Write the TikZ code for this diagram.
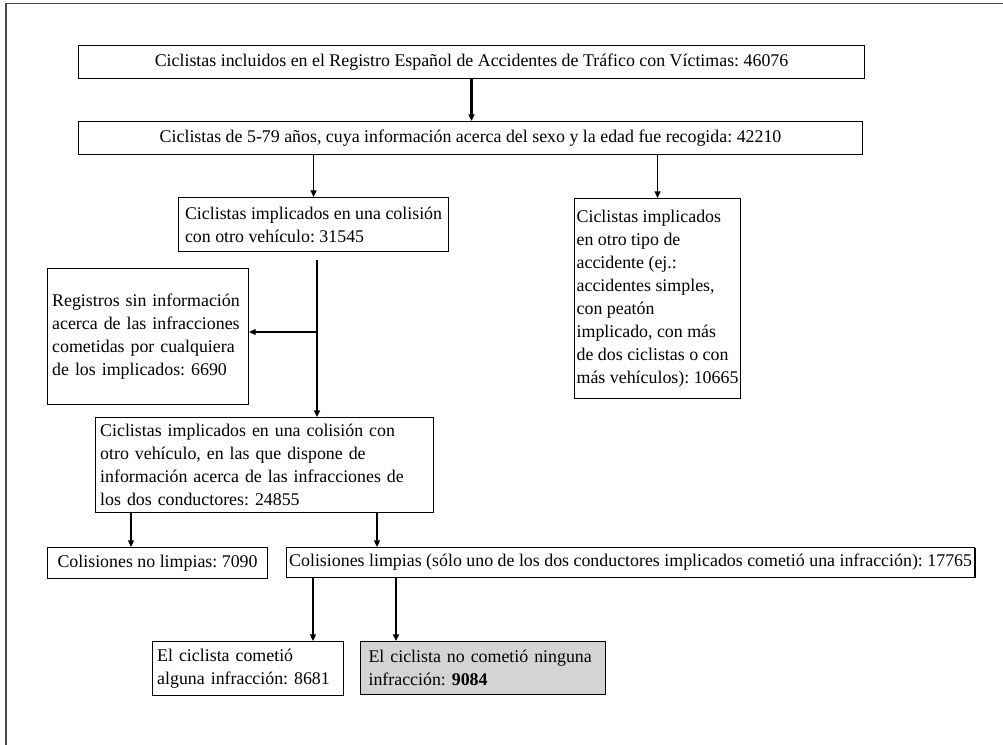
\documentclass[tikz,border=0pt]{standalone}
\usepackage{fontspec}
\setmainfont{Liberation Serif}
\usetikzlibrary{arrows.meta,shadows}
\definecolor{keptgray}{HTML}{D4D4D4}
\definecolor{edgegray}{HTML}{4A4A4A}

\begin{document}
\frenchspacing
\begin{tikzpicture}[
  x=0.75pt, y=-0.75pt,
  font=\fontsize{13.4}{17.2}\selectfont,
  >={Triangle[length=5pt,width=4.5pt]},
  stage/.style={draw=black, line width=0.8pt, fill=white, anchor=north west,
    inner xsep=2pt, inner ysep=2pt, align=left,
    drop shadow={shadow xshift=0.7pt, shadow yshift=-0.7pt, fill=black, opacity=1}},
  flush/.style={stage, inner xsep=3.5pt},
  wide/.style={stage, align=center},
  kept/.style={flush, fill=keptgray},
  flow/.style={->, line width=0.8pt},
  mainflow/.style={->, line width=1.6pt},
  pageedge/.style={draw=edgegray, line width=1pt}
]
  \useasboundingbox (0,0) rectangle (1003,745);
  \draw[pageedge] (1003,3.5) -- (6,3.5) -- (6,745);

  \node[wide, minimum width=589.5pt, minimum height=24.75pt] (registro) at (78,45)
    {Ciclistas incluidos en el Registro Español de Accidentes de Tráfico con Víctimas: 46076};
  \node[wide, minimum width=588pt, minimum height=24.75pt] (edadsexo) at (78,121)
    {Ciclistas de 5-79 años, cuya información acerca del sexo y la edad fue recogida: 42210};
  \node[stage, minimum width=202.5pt, minimum height=40.5pt] (colision) at (178,197)
    {Ciclistas implicados en una colisión\\con otro vehículo: 31545};
  \node[stage, inner xsep=1pt, minimum width=124.5pt, minimum height=150pt] (otrotipo) at (574,198)
    {Ciclistas implicados\\en otro tipo de\\accidente (ej.:\\accidentes simples,\\con peatón\\implicado, con más\\de dos ciclistas o con\\más vehículos): 10665};
  \node[flush, text width=143.75pt, minimum height=102pt] (sininfo) at (47,268)
    {Registros sin información\\acerca de las infracciones\\cometidas por cualquiera\\de los implicados: 6690};
  \node[flush, text width=246.5pt, minimum height=71.25pt] (coninfo) at (95,417)
    {Ciclistas implicados en una colisión con\\otro vehículo, en las que dispone de\\información acerca de las infracciones de\\los dos conductores: 24855};
  \node[wide, minimum width=165pt, minimum height=23.25pt] (nolimpias) at (47,547)
    {Colisiones no limpias: 7090};
  \node[wide, minimum width=516pt, minimum height=22.5pt] (limpias) at (286,547)
    {Colisiones limpias (sólo uno de los dos conductores implicados cometió una infracción): 17765};
  \node[flush, text width=136.25pt, minimum height=40.5pt] (infractor) at (152,641)
    {El ciclista cometió\\alguna infracción: 8681};
  \node[kept, inner xsep=6pt, text width=171.75pt, minimum height=39.75pt] (noinfractor) at (360,641)
    {El ciclista no cometió ninguna\\infracción: \textbf{9084}};

  % branch points below the boxes
  \coordinate (trunk) at (317,260);
  \coordinate (split) at (317,332);
  \coordinate (tapnolimpias) at (131,512);
  \coordinate (taplimpias) at (377,512);
  \coordinate (tapinfractor) at (313,577);
  \coordinate (tapnoinfractor) at (396,577);

  \draw[mainflow] (registro.south) -- (registro.south |- edadsexo.north);
  \draw[flow] (edadsexo.south -| colision.north) -- (colision.north);
  \draw[flow] (edadsexo.south -| otrotipo.north) -- (otrotipo.north);
  \draw[mainflow] (trunk) -- (trunk |- coninfo.north);
  \draw[flow] (split) -- (split -| sininfo.east);
  \draw[flow] (tapnolimpias) -- (tapnolimpias |- nolimpias.north);
  \draw[flow] (taplimpias) -- (taplimpias |- limpias.north);
  \draw[flow] (tapinfractor) -- (tapinfractor |- infractor.north);
  \draw[mainflow] (tapnoinfractor) -- (tapnoinfractor |- noinfractor.north);
\end{tikzpicture}
\end{document}
